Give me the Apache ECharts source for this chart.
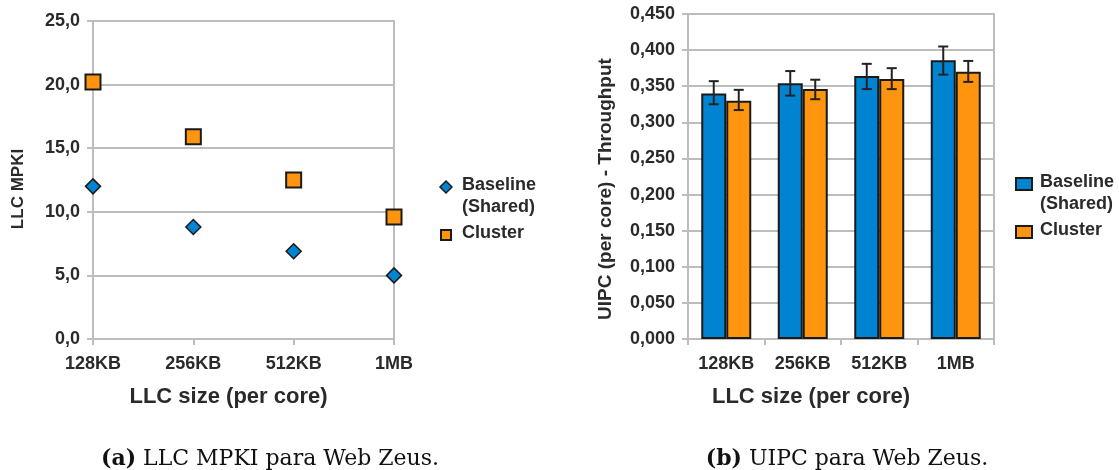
<!DOCTYPE html>
<html>
<head>
<meta charset="utf-8">
<script src="https://cdn.jsdelivr.net/npm/echarts@6/dist/echarts.min.js"></script>
<style>
  html, body { margin: 0; padding: 0; background: #fff; }
  #chart { width: 1119px; height: 470px; }
</style>
</head>
<body>
<div id="chart"></div>
<script>
// ---- data ----
const categories = ['128KB', '256KB', '512KB', '1MB'];
const seriesNames = ['Baseline (Shared)', 'Cluster'];
const legendLines = [['Baseline', '(Shared)'], ['Cluster']];

// LLC misses per kilo-instruction
const mpkiBaseline = [12.0, 8.8, 6.9, 5.0];
const mpkiCluster = [20.2, 15.9, 12.5, 9.6];

// user IPC per core, with confidence intervals
const uipcBaseline = [0.340, 0.354, 0.364, 0.386];
const uipcCluster = [0.330, 0.346, 0.360, 0.370];
const uipcBaselineLow = [0.325, 0.337, 0.346, 0.366];
const uipcBaselineHigh = [0.357, 0.371, 0.381, 0.405];
const uipcClusterLow = [0.317, 0.332, 0.346, 0.356];
const uipcClusterHigh = [0.345, 0.359, 0.375, 0.385];

const captions = [['(a)', 'LLC MPKI para Web Zeus.'], ['(b)', 'UIPC para Web Zeus.']];

// ---- style ----
const BLUE = '#0084d1';
const ORANGE = '#ff950e';
const EDGE = '#1a1a1a';
const GRID = '#bdbdbd';
const TEXT = '#2a2a2a';
const FONT = '"Liberation Sans", Arial, sans-serif';
const BAR_W = 25;

const comma = d => v => v.toFixed(d).replace('.', ',');

function valueAxis(gridIndex, max, interval, decimals, name, nameSize, nameGap, namePad) {
  return {
    type: 'value', gridIndex, min: 0, max, interval,
    name, nameLocation: 'middle', nameGap,
    nameTextStyle: { color: TEXT, fontFamily: FONT, fontWeight: 'bold', fontSize: nameSize, padding: namePad },
    axisLine: { show: true, lineStyle: { color: GRID, width: 2 } },
    axisTick: { show: true, length: 6, lineStyle: { color: GRID, width: 2 } },
    axisLabel: { color: TEXT, fontFamily: FONT, fontWeight: 'bold', fontSize: 18, margin: 13, formatter: comma(decimals) },
    splitLine: { show: true, lineStyle: { color: GRID, width: 2 } }
  };
}

function borderAxis(gridIndex) {
  return {
    type: 'value', gridIndex, position: 'right', min: 0, max: 1,
    axisLine: { show: true, lineStyle: { color: GRID, width: 2 } },
    axisTick: { show: false }, axisLabel: { show: false }, splitLine: { show: false }
  };
}

function categoryAxis(gridIndex, boundaryGap, namePad) {
  return {
    type: 'category', gridIndex, data: categories, boundaryGap,
    name: 'LLC size (per core)', nameLocation: 'middle', nameGap: 47,
    nameTextStyle: { color: TEXT, fontFamily: FONT, fontWeight: 'bold', fontSize: 22, padding: namePad },
    axisLine: { show: true, lineStyle: { color: GRID, width: 2 } },
    axisTick: { show: true, length: 6, alignWithLabel: !boundaryGap, lineStyle: { color: GRID, width: 2 } },
    axisLabel: { color: TEXT, fontFamily: FONT, fontWeight: 'bold', fontSize: 18, margin: 16 },
    splitLine: { show: false }
  };
}

function errorBars(low, high, side) {
  return {
    type: 'custom', xAxisIndex: 1, yAxisIndex: 2, z: 10, silent: true,
    data: categories.map((c, i) => [i, low[i], high[i]]),
    renderItem(params, api) {
      const x = api.coord([api.value(0), 0])[0] + side * BAR_W / 2;
      const yLo = api.coord([api.value(0), api.value(1)])[1];
      const yHi = api.coord([api.value(0), api.value(2)])[1];
      const st = { stroke: '#222', lineWidth: 2 };
      return {
        type: 'group',
        children: [
          { type: 'line', shape: { x1: x, y1: yLo, x2: x, y2: yHi }, style: st },
          { type: 'line', shape: { x1: x - 5, y1: yHi, x2: x + 5, y2: yHi }, style: st },
          { type: 'line', shape: { x1: x - 5, y1: yLo, x2: x + 5, y2: yLo }, style: st }
        ]
      };
    }
  };
}

// legend blocks drawn beside each plot
function legendBlock(x, y0, shapes) {
  const out = [];
  let y = y0;
  legendLines.forEach((lines, k) => {
    out.push(shapes[k](x, y));
    lines.forEach((t, j) => {
      out.push({
        type: 'text', left: x + 16, top: y - 11 + j * 22,
        style: { text: t, fill: TEXT, font: 'bold 18px ' + FONT }
      });
    });
    y += lines.length * 22 + 4;
  });
  return out;
}

const diamond = (x, y) => ({
  type: 'polygon', shape: { points: [[x, y - 6], [x + 6, y], [x, y + 6], [x - 6, y]] },
  style: { fill: BLUE, stroke: EDGE, lineWidth: 1.5 }
});
const smallSquare = (x, y) => ({
  type: 'rect', shape: { x: x - 5, y: y - 5, width: 10, height: 10 },
  style: { fill: ORANGE, stroke: EDGE, lineWidth: 2 }
});
const box = fill => (x, y) => ({
  type: 'rect', shape: { x: x - 8, y: y - 6, width: 16, height: 12 },
  style: { fill, stroke: EDGE, lineWidth: 2 }
});

function caption(cx, parts) {
  return {
    type: 'text', x: cx, y: 459,
    style: {
      text: '{b|' + parts[0] + '} ' + parts[1],
      align: 'center', verticalAlign: 'middle',
      font: '22px "DejaVu Serif", serif', fill: '#111',
      rich: { b: { font: 'bold 22px "DejaVu Serif", serif', fill: '#111' } }
    }
  };
}

const chart = echarts.init(document.getElementById('chart'), null, { renderer: 'canvas' });

chart.setOption({
  animation: false,
  backgroundColor: '#fff',
  grid: [
    { left: 93, right: 1119 - 394, top: 21, bottom: 470 - 339 },
    { left: 688, right: 1119 - 994, top: 14, bottom: 470 - 339 }
  ],
  xAxis: [
    categoryAxis(0, false, [0, 30, 0, 0]),
    categoryAxis(1, true, [0, 60, 0, 0])
  ],
  yAxis: [
    valueAxis(0, 25, 5, 1, 'LLC MPKI', 17, 66, [0, 18, 0, 0]),
    borderAxis(0),
    valueAxis(1, 0.45, 0.05, 3, 'UIPC (per core) - Throughput', 19, 73, [0, 25, 0, 0]),
    borderAxis(1)
  ],
  series: [
    {
      name: seriesNames[0], type: 'scatter', xAxisIndex: 0, yAxisIndex: 0,
      data: mpkiBaseline, symbol: 'diamond', symbolSize: 15, z: 5,
      itemStyle: { color: BLUE, borderColor: EDGE, borderWidth: 1.5, opacity: 1 }
    },
    {
      name: seriesNames[1], type: 'scatter', xAxisIndex: 0, yAxisIndex: 0,
      data: mpkiCluster, symbol: 'rect', symbolSize: 15, z: 5,
      itemStyle: { color: ORANGE, borderColor: EDGE, borderWidth: 2, opacity: 1 }
    },
    {
      name: seriesNames[0], type: 'bar', xAxisIndex: 1, yAxisIndex: 2,
      data: uipcBaseline, barWidth: BAR_W, barGap: '0%',
      itemStyle: { color: BLUE, borderColor: EDGE, borderWidth: 2 }
    },
    {
      name: seriesNames[1], type: 'bar', xAxisIndex: 1, yAxisIndex: 2,
      data: uipcCluster, barWidth: BAR_W, barGap: '0%',
      itemStyle: { color: ORANGE, borderColor: EDGE, borderWidth: 2 }
    },
    errorBars(uipcBaselineLow, uipcBaselineHigh, -1),
    errorBars(uipcClusterLow, uipcClusterHigh, 1)
  ],
  graphic: [
    ...legendBlock(446, 187, [diamond, smallSquare]),
    ...legendBlock(1024, 184, [box(BLUE), box(ORANGE)]),
    caption(270, captions[0]),
    caption(847, captions[1])
  ]
});
</script>
</body>
</html>
